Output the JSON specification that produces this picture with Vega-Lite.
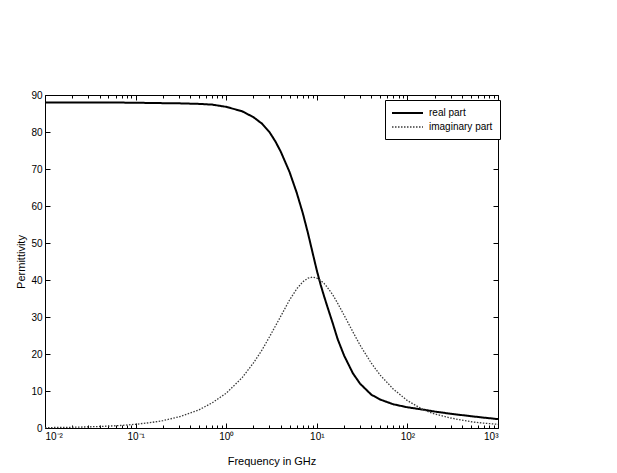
{
  "$schema": "https://vega.github.io/schema/vega-lite/v6.json",
  "autosize": {"type": "none"},
  "width": 453,
  "height": 333,
  "padding": {"left": 45, "top": 95, "right": 119, "bottom": 45},
  "background": "white",
  "config": {
    "view": {"stroke": null},
    "font": "Liberation Sans",
    "axis": {"domainColor": "black", "tickColor": "black", "labelColor": "black", "titleColor": "black", "grid": false, "labelFont": "Liberation Sans", "titleFont": "Liberation Sans", "labelFontSize": 10, "titleFontSize": 11, "titleFontWeight": "normal", "domainWidth": 1, "tickWidth": 1},
    "legend": {"title": null, "orient": "none", "legendX": 340, "legendY": 5, "strokeColor": "black", "fillColor": "white", "padding": 7, "symbolType": "M-5.2,0H1", "symbolSize": 100, "symbolOffset": 20, "labelFontSize": 10, "labelFont": "Liberation Sans", "labelColor": "black", "rowPadding": 3, "labelOffset": 5}
  },
  "data": {
    "values": [
      {"f": 0.01, "v": 88.0, "s": "real part"},
      {"f": 0.02, "v": 88.0, "s": "real part"},
      {"f": 0.03, "v": 88.0, "s": "real part"},
      {"f": 0.05, "v": 88.0, "s": "real part"},
      {"f": 0.07, "v": 87.95, "s": "real part"},
      {"f": 0.1, "v": 87.9, "s": "real part"},
      {"f": 0.15, "v": 87.85, "s": "real part"},
      {"f": 0.2, "v": 87.8, "s": "real part"},
      {"f": 0.3, "v": 87.75, "s": "real part"},
      {"f": 0.5, "v": 87.6, "s": "real part"},
      {"f": 0.7, "v": 87.4, "s": "real part"},
      {"f": 1, "v": 86.8, "s": "real part"},
      {"f": 1.5, "v": 85.6, "s": "real part"},
      {"f": 2, "v": 84.0, "s": "real part"},
      {"f": 2.5, "v": 82.2, "s": "real part"},
      {"f": 3, "v": 80.0, "s": "real part"},
      {"f": 3.5, "v": 77.4, "s": "real part"},
      {"f": 4, "v": 74.7, "s": "real part"},
      {"f": 5, "v": 69.2, "s": "real part"},
      {"f": 6, "v": 63.6, "s": "real part"},
      {"f": 7, "v": 58.1, "s": "real part"},
      {"f": 8, "v": 52.6, "s": "real part"},
      {"f": 9, "v": 47.3, "s": "real part"},
      {"f": 10, "v": 42.6, "s": "real part"},
      {"f": 11, "v": 38.8, "s": "real part"},
      {"f": 12, "v": 35.7, "s": "real part"},
      {"f": 13, "v": 33.0, "s": "real part"},
      {"f": 15, "v": 28.3, "s": "real part"},
      {"f": 17, "v": 24.0, "s": "real part"},
      {"f": 20, "v": 19.6, "s": "real part"},
      {"f": 25, "v": 14.8, "s": "real part"},
      {"f": 30, "v": 12.0, "s": "real part"},
      {"f": 40, "v": 9.0, "s": "real part"},
      {"f": 50, "v": 7.7, "s": "real part"},
      {"f": 70, "v": 6.4, "s": "real part"},
      {"f": 100, "v": 5.6, "s": "real part"},
      {"f": 150, "v": 4.95, "s": "real part"},
      {"f": 200, "v": 4.45, "s": "real part"},
      {"f": 300, "v": 3.85, "s": "real part"},
      {"f": 500, "v": 3.2, "s": "real part"},
      {"f": 700, "v": 2.8, "s": "real part"},
      {"f": 1000, "v": 2.4, "s": "real part"},
      {"f": 0.01, "v": 0.1, "s": "imaginary part"},
      {"f": 0.02, "v": 0.2, "s": "imaginary part"},
      {"f": 0.03, "v": 0.3, "s": "imaginary part"},
      {"f": 0.05, "v": 0.5, "s": "imaginary part"},
      {"f": 0.07, "v": 0.7, "s": "imaginary part"},
      {"f": 0.1, "v": 1.0, "s": "imaginary part"},
      {"f": 0.15, "v": 1.5, "s": "imaginary part"},
      {"f": 0.2, "v": 2.0, "s": "imaginary part"},
      {"f": 0.3, "v": 3.0, "s": "imaginary part"},
      {"f": 0.5, "v": 4.9, "s": "imaginary part"},
      {"f": 0.7, "v": 6.8, "s": "imaginary part"},
      {"f": 1, "v": 9.4, "s": "imaginary part"},
      {"f": 1.5, "v": 13.6, "s": "imaginary part"},
      {"f": 2, "v": 17.6, "s": "imaginary part"},
      {"f": 2.5, "v": 21.2, "s": "imaginary part"},
      {"f": 3, "v": 24.6, "s": "imaginary part"},
      {"f": 3.5, "v": 27.6, "s": "imaginary part"},
      {"f": 4, "v": 30.2, "s": "imaginary part"},
      {"f": 5, "v": 34.6, "s": "imaginary part"},
      {"f": 6, "v": 37.6, "s": "imaginary part"},
      {"f": 7, "v": 39.5, "s": "imaginary part"},
      {"f": 8, "v": 40.5, "s": "imaginary part"},
      {"f": 9, "v": 40.8, "s": "imaginary part"},
      {"f": 10, "v": 40.5, "s": "imaginary part"},
      {"f": 11, "v": 39.9, "s": "imaginary part"},
      {"f": 12, "v": 39.1, "s": "imaginary part"},
      {"f": 13, "v": 38.1, "s": "imaginary part"},
      {"f": 15, "v": 36.0, "s": "imaginary part"},
      {"f": 17, "v": 33.7, "s": "imaginary part"},
      {"f": 20, "v": 30.5, "s": "imaginary part"},
      {"f": 25, "v": 26.0, "s": "imaginary part"},
      {"f": 30, "v": 22.4, "s": "imaginary part"},
      {"f": 40, "v": 17.5, "s": "imaginary part"},
      {"f": 50, "v": 14.3, "s": "imaginary part"},
      {"f": 70, "v": 10.5, "s": "imaginary part"},
      {"f": 100, "v": 7.4, "s": "imaginary part"},
      {"f": 150, "v": 4.9, "s": "imaginary part"},
      {"f": 200, "v": 3.8, "s": "imaginary part"},
      {"f": 300, "v": 2.7, "s": "imaginary part"},
      {"f": 500, "v": 1.7, "s": "imaginary part"},
      {"f": 700, "v": 1.3, "s": "imaginary part"},
      {"f": 1000, "v": 1.0, "s": "imaginary part"}
    ]
  },
  "resolve": {"axis": {"x": "independent", "y": "independent"}},
  "layer": [
    {
      "mark": {"type": "line", "interpolate": "linear"},
      "encoding": {
        "x": {"field": "f", "type": "quantitative", "scale": {"type": "log", "domain": [0.01, 1000], "nice": false},
          "axis": {"orient": "bottom", "title": "Frequency in GHz", "values": [0.01, 0.1, 1, 10, 100, 1000], "labelExpr": "datum.value < 0.05 ? '10⁻²' : datum.value < 0.5 ? '10⁻¹' : datum.value < 5 ? '10⁰' : datum.value < 50 ? '10¹' : datum.value < 500 ? '10²' : '10³'", "tickSize": -5, "labelPadding": 8, "titlePadding": 14, "labelFontSize": 10}},
        "y": {"field": "v", "type": "quantitative", "scale": {"domain": [0, 90], "nice": false},
          "axis": {"orient": "left", "title": "Permittivity", "values": [0, 10, 20, 30, 40, 50, 60, 70, 80, 90], "tickSize": -5, "labelPadding": 8, "titlePadding": 4}},
        "color": {"field": "s", "type": "nominal", "scale": {"domain": ["real part", "imaginary part"], "range": ["#000000", "#3a3a3a"]}},
        "strokeDash": {"field": "s", "type": "nominal", "scale": {"domain": ["real part", "imaginary part"], "range": [[1, 0], [1.5, 1.5]]}},
        "strokeWidth": {"field": "s", "type": "nominal", "scale": {"domain": ["real part", "imaginary part"], "range": [2, 1.3]}}
      }
    },
    {
      "mark": {"type": "line", "opacity": 0},
      "encoding": {
        "x": {"field": "f", "type": "quantitative", "axis": {"orient": "bottom", "title": null, "labels": false, "domain": false, "tickSize": -3, "values": [0.02,0.03,0.04,0.05,0.06,0.07,0.08,0.09,0.2,0.3,0.4,0.5,0.6,0.7,0.8,0.9,2,3,4,5,6,7,8,9,20,30,40,50,60,70,80,90,200,300,400,500,600,700,800,900]}},
        "y": {"field": "v", "type": "quantitative", "axis": null},
        "detail": {"field": "s"}
      }
    },
    {
      "mark": {"type": "line", "opacity": 0},
      "encoding": {
        "x": {"field": "f", "type": "quantitative", "axis": {"orient": "top", "title": null, "labels": false, "tickSize": -5, "values": [0.01, 0.1, 1, 10, 100, 1000]}},
        "y": {"field": "v", "type": "quantitative", "axis": {"orient": "right", "title": null, "labels": false, "tickSize": -5, "values": [0, 10, 20, 30, 40, 50, 60, 70, 80, 90]}},
        "detail": {"field": "s"}
      }
    },
    {
      "mark": {"type": "line", "opacity": 0},
      "encoding": {
        "x": {"field": "f", "type": "quantitative", "axis": {"orient": "top", "title": null, "labels": false, "domain": false, "tickSize": -3, "values": [0.02,0.03,0.04,0.05,0.06,0.07,0.08,0.09,0.2,0.3,0.4,0.5,0.6,0.7,0.8,0.9,2,3,4,5,6,7,8,9,20,30,40,50,60,70,80,90,200,300,400,500,600,700,800,900]}},
        "y": {"field": "v", "type": "quantitative", "axis": null},
        "detail": {"field": "s"}
      }
    }
  ]
}
